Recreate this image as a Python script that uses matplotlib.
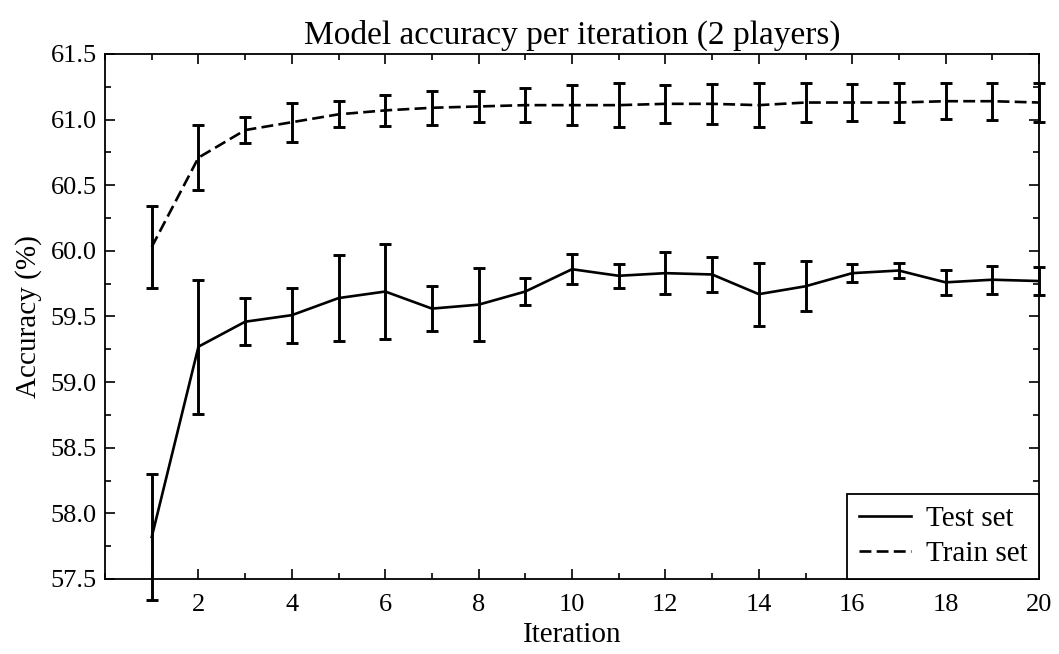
import matplotlib
matplotlib.use('Agg')
import matplotlib.pyplot as plt
from matplotlib.ticker import MultipleLocator, FormatStrFormatter
from matplotlib.lines import Line2D

plt.rcParams['font.family'] = ['Liberation Serif', 'DejaVu Serif']

iterations = list(range(1, 21))

# test set: mean accuracy and error
test_acc = [57.82, 59.27, 59.46, 59.51, 59.64, 59.69, 59.56, 59.59, 59.69, 59.86,
            59.81, 59.83, 59.82, 59.67, 59.73, 59.83, 59.85, 59.76, 59.78, 59.77]
test_err = [0.48, 0.51, 0.18, 0.21, 0.33, 0.36, 0.17, 0.28, 0.10, 0.115,
            0.09, 0.16, 0.135, 0.24, 0.19, 0.07, 0.06, 0.095, 0.105, 0.11]

# train set
train_acc = [60.03, 60.71, 60.92, 60.98, 61.04, 61.07, 61.09, 61.10, 61.11, 61.11,
             61.11, 61.12, 61.12, 61.11, 61.13, 61.13, 61.13, 61.14, 61.14, 61.13]
train_err = [0.31, 0.25, 0.10, 0.15, 0.10, 0.12, 0.13, 0.12, 0.13, 0.15,
             0.165, 0.145, 0.15, 0.17, 0.15, 0.14, 0.145, 0.135, 0.14, 0.145]

dash = (0, (4.5, 2))

fig = plt.figure(figsize=(10.59, 6.54), dpi=100)
ax = fig.add_axes([0.0992, 0.1147, 0.8819, 0.8028])

eb1 = ax.errorbar(iterations, test_acc, yerr=test_err, color='black', lw=1.9,
                  elinewidth=2.1, capsize=4, capthick=2.1, ls='-')
eb2 = ax.errorbar(iterations, train_acc, yerr=train_err, color='black', lw=1.9,
                  elinewidth=2.1, capsize=4, capthick=2.1, ls=dash)
for eb in (eb1, eb2):
    eb.lines[0].set_clip_on(False)
    for art in eb.lines[1] + eb.lines[2]:
        art.set_clip_on(False)

ax.set_xlim(0, 20)
ax.set_ylim(57.5, 61.5)
ax.set_xticks(range(2, 21, 2))
ax.xaxis.set_minor_locator(MultipleLocator(1))
ax.yaxis.set_major_locator(MultipleLocator(0.5))
ax.yaxis.set_minor_locator(MultipleLocator(0.25))
ax.yaxis.set_major_formatter(FormatStrFormatter('%.1f'))
ax.tick_params(which='both', direction='in', top=True, right=True, labelsize=19, width=1.2)
ax.tick_params(which='major', length=7, pad=6)
ax.tick_params(axis='x', which='major', pad=11)
ax.tick_params(which='minor', length=4)
for s in ax.spines.values():
    s.set_linewidth(1.3)

ax.set_xlabel('Iteration', fontsize=21, labelpad=4)
ax.set_ylabel('Accuracy (%)', fontsize=21, labelpad=6)
ax.set_title('Model accuracy per iteration (2 players)', fontsize=24, pad=7)

handles = [Line2D([], [], color='black', lw=1.9, ls='-'),
           Line2D([], [], color='black', lw=1.9, ls=dash)]
leg = ax.legend(handles, ['Test set', 'Train set'], loc='lower right', fontsize=21,
                fancybox=False, framealpha=1, edgecolor='black', borderaxespad=0,
                handlelength=1.8, handletextpad=0.5, borderpad=0.4, labelspacing=0.3)
leg.get_frame().set_linewidth(1.3)

fig.savefig('out.png', dpi=100)
